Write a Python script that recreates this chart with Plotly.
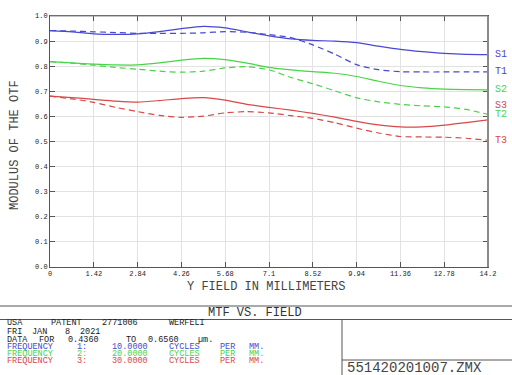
import plotly.graph_objects as go

# ---------------- data ----------------
field = [0.0, 0.71, 1.42, 2.13, 2.84, 3.55, 4.26, 4.97, 5.68, 6.39, 7.1,
         7.81, 8.52, 9.23, 9.94, 10.65, 11.36, 12.07, 12.78, 13.49, 14.2]

s1 = [0.942, 0.937, 0.929, 0.927, 0.929, 0.938, 0.950, 0.959, 0.953, 0.937, 0.921,
      0.909, 0.903, 0.900, 0.894, 0.880, 0.867, 0.858, 0.851, 0.847, 0.846]
t1 = [0.942, 0.940, 0.937, 0.934, 0.931, 0.931, 0.931, 0.933, 0.938, 0.935, 0.926,
      0.914, 0.885, 0.848, 0.806, 0.786, 0.778, 0.777, 0.777, 0.777, 0.777]
s2 = [0.818, 0.813, 0.808, 0.805, 0.805, 0.813, 0.824, 0.831, 0.826, 0.812, 0.795,
      0.785, 0.778, 0.772, 0.759, 0.740, 0.723, 0.714, 0.709, 0.707, 0.706]
t2 = [0.818, 0.812, 0.804, 0.795, 0.788, 0.780, 0.776, 0.780, 0.793, 0.798, 0.786,
      0.755, 0.730, 0.702, 0.674, 0.658, 0.648, 0.642, 0.638, 0.628, 0.608]
s3 = [0.681, 0.675, 0.668, 0.661, 0.657, 0.663, 0.671, 0.675, 0.665, 0.648, 0.636,
      0.625, 0.612, 0.597, 0.580, 0.566, 0.558, 0.558, 0.565, 0.575, 0.586]
t3 = [0.681, 0.670, 0.656, 0.636, 0.619, 0.604, 0.596, 0.601, 0.614, 0.619, 0.614,
      0.603, 0.592, 0.575, 0.553, 0.534, 0.520, 0.518, 0.517, 0.513, 0.505]

x_ticks = [0, 1.42, 2.84, 4.26, 5.68, 7.1, 8.52, 9.94, 11.36, 12.78, 14.2]
x_tick_text = ["0", "1.42", "2.84", "4.26", "5.68", "7.1", "8.52", "9.94",
               "11.36", "12.78", "14.2"]
y_ticks = [0.0, 0.1, 0.2, 0.3, 0.4, 0.5, 0.6, 0.7, 0.8, 0.9, 1.0]

series_names = ["S1", "T1", "S2", "T2", "S3", "T3"]
series_values = [s1, t1, s2, t2, s3, t3]

BLUE, GREEN, RED = "#4848d4", "#48d448", "#d84848"
series_colors = [BLUE, BLUE, GREEN, GREEN, RED, RED]
series_dash = ["solid", "6px,4px", "solid", "6px,4px", "solid", "6px,4px"]
label_shift = [0, 0, 0, 0, 14, 0]

# --------------- layout geometry ---------------
W, H = 512, 375
L, R, T, B = 50, 24, 16, 108
PW, PH = W - L - R, H - T - B


def px(x):
    return (x - L) / PW


def py(y):
    return (H - B - y) / PH


FONT = "Liberation Mono"
TXT = "#444444"

fig = go.Figure()
for name, vals, col, dash in zip(series_names, series_values, series_colors, series_dash):
    fig.add_trace(go.Scatter(x=field, y=vals, mode="lines", name=name,
                             line=dict(color=col, width=1.2, dash=dash, shape="spline",
                                       smoothing=0.6),
                             showlegend=False, hoverinfo="skip", cliponaxis=False))

annotations = []
for name, vals, col, sh in zip(series_names, series_values, series_colors, label_shift):
    annotations.append(dict(x=px(493), y=vals[-1], xref="paper", yref="y", text=name,
                            showarrow=False, xanchor="left", yanchor="middle",
                            yshift=sh,
                            font=dict(family=FONT, size=10, color=col)))

# axis titles
annotations.append(dict(x=px(266), y=py(287), xref="paper", yref="paper",
                        text="Y FIELD IN MILLIMETERS", showarrow=False,
                        xanchor="center", yanchor="middle",
                        font=dict(family=FONT, size=12, color=TXT)))
annotations.append(dict(x=px(15), y=py(145), xref="paper", yref="paper",
                        text="MODULUS OF THE OTF", showarrow=False, textangle=-90,
                        xanchor="center", yanchor="middle",
                        font=dict(family=FONT, size=12, color=TXT)))

# bottom info block
annotations.append(dict(x=px(255), y=py(313), xref="paper", yref="paper",
                        text="MTF VS. FIELD", showarrow=False,
                        xanchor="center", yanchor="middle",
                        font=dict(family=FONT, size=12, color="#333333")))

info_lines = [
    (322.6, "#222222", [("USA", 5), ("PATENT", 49), ("2771006", 100), ("WERFELI", 167)]),
    (332.2, "#222222", [("FRI", 5), ("JAN", 30), ("8", 63), ("2021", 78)]),
    (339.5, "#222222", [("DATA", 5), ("FOR", 37), ("0.4360", 66), ("TO", 124),
                        ("0.6560", 146), ("µm.", 196)]),
    (346.8, BLUE, [("FREQUENCY", 5), ("1:", 75), ("10.0000", 110), ("CYCLES", 167),
                   ("PER", 218), ("MM.", 247)]),
    (354.1, GREEN, [("FREQUENCY", 5), ("2:", 75), ("20.0000", 110), ("CYCLES", 167),
                    ("PER", 218), ("MM.", 247)]),
    (361.4, RED, [("FREQUENCY", 5), ("3:", 75), ("30.0000", 110), ("CYCLES", 167),
                  ("PER", 218), ("MM.", 247)]),
]
for yy, col, words in info_lines:
    for w, xx in words:
        annotations.append(dict(x=px(xx), y=py(yy), xref="paper", yref="paper",
                                text=w, showarrow=False, xanchor="left",
                                yanchor="middle",
                                font=dict(family=FONT, size=8.5, color=col)))

annotations.append(dict(x=px(345), y=py(367.5), xref="paper", yref="paper",
                        text="551420201007.ZMX", showarrow=False, xanchor="left",
                        yanchor="middle",
                        font=dict(family=FONT, size=14, color="#444444")))

LC = "#555555"
shapes = [
    # top and right frame edges (grey)
    dict(type="line", xref="paper", yref="paper", x0=0, x1=1, y0=1, y1=1,
         line=dict(color="#8a8a8a", width=1)),
    dict(type="line", xref="paper", yref="paper", x0=1, x1=1, y0=0, y1=1,
         line=dict(color="#8a8a8a", width=2)),
    # bottom block frame
    dict(type="line", xref="paper", yref="paper", x0=px(0), x1=px(W), y0=py(306),
         y1=py(306), line=dict(color=LC, width=1)),
    dict(type="line", xref="paper", yref="paper", x0=px(0), x1=px(W), y0=py(319.5),
         y1=py(319.5), line=dict(color=LC, width=1)),
    dict(type="line", xref="paper", yref="paper", x0=px(342), x1=px(342), y0=py(319.5),
         y1=py(H), line=dict(color=LC, width=1)),
    dict(type="line", xref="paper", yref="paper", x0=px(342), x1=px(W), y0=py(360),
         y1=py(360), line=dict(color=LC, width=1)),
]

fig.update_layout(
    width=W, height=H, autosize=False,
    margin=dict(l=L, r=R, t=T, b=B, pad=0),
    paper_bgcolor="white", plot_bgcolor="white",
    annotations=annotations, shapes=shapes,
    xaxis=dict(range=[0, 14.2], tickmode="array", tickvals=x_ticks, ticktext=x_tick_text,
               ticks="inside", ticklen=5, tickcolor=LC, showline=True, linecolor=LC,
               linewidth=1, mirror="ticks", showgrid=True, gridcolor="#e2e2e2",
               gridwidth=1, zeroline=False,
               tickfont=dict(family=FONT, size=7, color="#222222")),
    yaxis=dict(range=[0, 1], tickmode="array", tickvals=y_ticks,
               ticktext=[f"{v:.1f}" for v in y_ticks],
               ticks="inside", ticklen=5, tickcolor=LC, showline=True, linecolor=LC,
               linewidth=1, mirror="ticks", showgrid=True, gridcolor="#e2e2e2",
               gridwidth=1, zeroline=False,
               tickfont=dict(family=FONT, size=7, color="#222222")),
)

fig.write_html("out.html", config={"displayModeBar": False},
               post_script="document.body.style.margin='0';"
                           "document.body.style.overflow='hidden';")
